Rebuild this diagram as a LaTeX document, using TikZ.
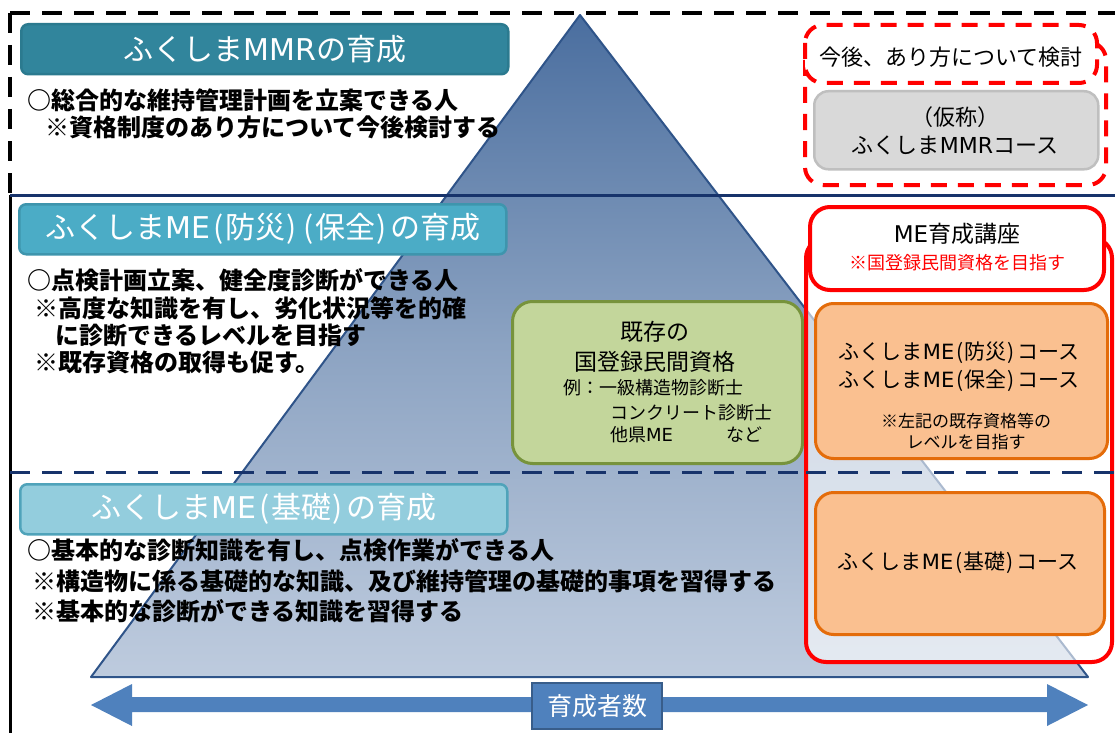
\documentclass[tikz,border=0pt]{standalone}
\usepackage{fontspec}
\setmainfont{Noto Sans CJK JP}
\newfontfamily\latfont{DejaVu Sans}
\newcommand{\myLat}[1]{{\latfont #1}}
\newcommand{\myLP}{\hspace{0.12em}(\hspace{0.04em}}
\newcommand{\myRP}{\hspace{0.04em})\hspace{0.12em}}
\usetikzlibrary{shapes.misc}
\definecolor{navy}{HTML}{17336B}
\definecolor{tealA}{HTML}{31859C}
\definecolor{tealAline}{HTML}{2B7A8F}
\definecolor{tealB}{HTML}{4BACC6}
\definecolor{tealBline}{HTML}{3E95AD}
\definecolor{tealC}{HTML}{93CDDD}
\definecolor{tealCline}{HTML}{4FA3BA}
\definecolor{greenfill}{HTML}{C3D69B}
\definecolor{greenline}{HTML}{77933C}
\definecolor{orangefill}{HTML}{FAC090}
\definecolor{orangeline}{HTML}{E46C0A}
\definecolor{grayfill}{HTML}{D9D9D9}
\definecolor{grayline}{HTML}{BFBFBF}
\definecolor{arrowblue}{HTML}{4F81BD}
\definecolor{arrowline}{HTML}{385D8A}
\definecolor{pyrline}{HTML}{2F5489}
\definecolor{pA}{HTML}{E8EDF5}
\definecolor{pB}{HTML}{B5C4D9}
\definecolor{pC}{HTML}{8CA3C2}
\definecolor{pD}{HTML}{4A6E9F}
\definecolor{pE}{HTML}{3A6094}
\definecolor{pF}{HTML}{64799A}
\pgfdeclareverticalshading{pyrshade}{100bp}{color(0bp)=(pA); color(30bp)=(pB); color(50bp)=(pC); color(75bp)=(pD); color(88bp)=(pE); color(100bp)=(pF)}
\tikzset{
  ttl/.style={rounded corners=7pt, text=white, font=\fontsize{30}{34}\selectfont, line width=2.5pt, anchor=north west, inner sep=0pt, minimum width=487pt, minimum height=50pt},
  bodytxt/.style={font=\bfseries\fontsize{24}{28}\selectfont, anchor=west, inner sep=0pt},
  crsbox/.style={rounded corners=18pt, fill=orangefill, draw=orangeline, line width=3pt, anchor=north west, inner sep=0pt},
  crstxt/.style={font=\fontsize{21}{25}\selectfont, inner sep=0pt},
  smalltxt/.style={font=\fontsize{17}{20}\selectfont, inner sep=0pt},
  greentxt/.style={font=\fontsize{23}{26}\selectfont, inner sep=0pt},
  gtxt/.style={font=\fontsize{18}{21}\selectfont, inner sep=0pt},
  reddash/.style={draw=red, line width=4pt, dash pattern=on 16pt off 11pt, rounded corners=18pt},
  redsolid/.style={draw=red, line width=4pt, rounded corners=20pt},
  navydash/.style={navy, line width=3pt, dash pattern=on 20pt off 12pt},
}
\begin{document}
\begin{tikzpicture}[x=1pt,y=-1pt]
\useasboundingbox (0,0) rectangle (1115,733);
\fill[white] (0,0) rectangle (1115,733);

% pyramid
\shade[shading=pyrshade] (580,15) -- (91,677) -- (1088,677) -- cycle;
\draw[pyrline, line width=2pt, line join=round] (580,15) -- (91,677) -- (1088,677) -- cycle;

% frame lines
\draw[black, line width=3.5pt, dash pattern=on 20pt off 12pt] (10,13) -- (1115,13);
\draw[black, line width=3.5pt, dash pattern=on 20pt off 12pt] (10,13) -- (10,195);
\draw[black, line width=3pt] (10,195) -- (10,733);
\draw[navy, line width=3pt] (10,195) -- (1115,195);
\draw[navydash] (10,472) -- (806,472);

% MMR section
\node[ttl, fill=tealA, draw=tealAline] (t1) at (20,23) {ふくしま\myLat{MMR}の育成};
\node[bodytxt] (a1) at (27,100) {○総合的な維持管理計画を立案できる人};
\node[bodytxt] (a2) at (45,127) {※資格制度のあり方について今後検討する};

% ME bousai/hozen section
\node[ttl, fill=tealB, draw=tealBline] (t2) at (18,203) {ふくしま\myLat{ME}\myLP 防災\myRP\myLP 保全\myRP の育成};
\node[bodytxt] (b1) at (27,280) {○点検計画立案、健全度診断ができる人};
\node[bodytxt] (b2) at (34,308) {※高度な知識を有し、劣化状況等を的確};
\node[bodytxt] (b3) at (55,335) {に診断できるレベルを目指す};
\node[bodytxt] (b4) at (34,362) {※既存資格の取得も促す。};

% ME kiso section
\node[ttl, fill=tealC, draw=tealCline] (t3) at (19,483) {ふくしま\myLat{ME}\myLP 基礎\myRP の育成};
\node[bodytxt] (c1) at (27,550) {○基本的な診断知識を有し、点検作業ができる人};
\node[bodytxt] (c2) at (32,581) {※構造物に係る基礎的な知識、及び維持管理の基礎的事項を習得する};
\node[bodytxt] (c3) at (32,611) {※基本的な診断ができる知識を習得する};

% green box
\node[rounded corners=20pt, fill=greenfill, draw=greenline, line width=3pt, anchor=north west, minimum width=290pt, minimum height=162pt, inner sep=0pt] (gbox) at (511,300) {};
\node[greentxt] (g1) at (655,332) {既存の};
\node[greentxt] (g2) at (655,362) {国登録民間資格};
\node[gtxt, anchor=west] (g3) at (563,388) {例：一級構造物診断士};
\node[gtxt, anchor=west] (g4) at (610,413) {コンクリート診断士};
\node[gtxt, anchor=west] (g5) at (610,435) {他県\myLat{ME}};
\node[gtxt, anchor=east] (g6) at (763,435) {など};

% MMR future (red dashed)
\draw[reddash] (805,42) rectangle (1106,185);
\filldraw[reddash, fill=white] (805,25) rectangle (1097,83);
\node[font=\fontsize{22}{25}\selectfont, inner sep=0pt] (fut) at (951,57) {今後、あり方について検討};
\node[rounded corners=14pt, fill=grayfill, draw=grayline, line width=2.5pt, anchor=north west, minimum width=284pt, minimum height=78pt, inner sep=0pt] (gray) at (813,90) {};
\node[font=\fontsize{22}{25}\selectfont, inner sep=0pt] (gr1) at (955,117) {（仮称）};
\node[font=\fontsize{22}{25}\selectfont, inner sep=0pt] (gr2) at (955,145) {ふくしま\myLat{MMR}コース};

% ME course group (red solid)
\filldraw[redsolid, fill=white, fill opacity=0.6] (806,238) rectangle (1112,662);
\filldraw[redsolid, fill=white] (810,207) rectangle (1104,290);
\draw[navydash] (806,472) -- (1115,472);
\node[font=\fontsize{23}{26}\selectfont, inner sep=0pt] (me) at (957,234) {\myLat{ME}育成講座};
\node[font=\fontsize{18}{21}\selectfont, text=red, inner sep=0pt] (mer) at (957,263) {※国登録民間資格を目指す};

\node[crsbox, minimum width=292pt, minimum height=155pt] (o1) at (814,302) {};
\node[crstxt] (o1a) at (959,353) {ふくしま\myLat{ME}\myLP 防災\myRP コース};
\node[crstxt] (o1b) at (959,381) {ふくしま\myLat{ME}\myLP 保全\myRP コース};
\node[smalltxt] (o1c) at (966,421) {※左記の既存資格等の};
\node[smalltxt] (o1d) at (966,442) {レベルを目指す};

\node[crsbox, minimum width=289pt, minimum height=142pt] (o2) at (814,491) {};
\node[crstxt] (o2a) at (958,563) {ふくしま\myLat{ME}\myLP 基礎\myRP コース};

% double arrow
\fill[arrowblue] (91,705) -- (132,684) -- (132,697) -- (1047,697) -- (1047,684) -- (1088,705) -- (1047,726) -- (1047,712) -- (132,712) -- (132,726) -- cycle;
\node[fill=arrowblue, draw=arrowline, line width=2pt, text=white, font=\fontsize{25}{28}\selectfont, anchor=north west, minimum width=130pt, minimum height=46pt, inner sep=0pt] (cnt) at (531,682) {育成者数};
\end{tikzpicture}
\end{document}
